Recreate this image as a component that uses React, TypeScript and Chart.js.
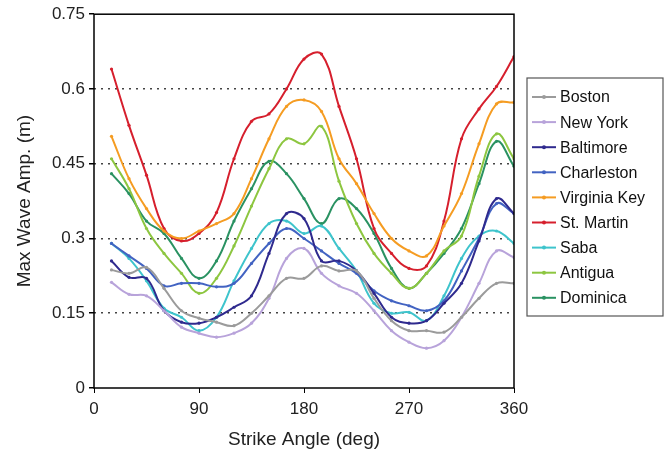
import React, { useEffect, useRef } from "react";
import { Chart, registerables } from "chart.js";

Chart.register(...registerables);

const angles = [15, 30, 45, 60, 75, 90, 105, 120, 135, 150, 165, 180, 195, 210, 225, 240, 255, 270, 285, 300, 315, 330, 345, 360];

const boston = [0.237, 0.23, 0.242, 0.2, 0.155, 0.14, 0.132, 0.125, 0.15, 0.185, 0.22, 0.22, 0.245, 0.235, 0.235, 0.18, 0.135, 0.115, 0.115, 0.112, 0.142, 0.18, 0.21, 0.21];
const newYork = [0.212, 0.188, 0.185, 0.155, 0.122, 0.11, 0.102, 0.11, 0.13, 0.18, 0.26, 0.28, 0.23, 0.205, 0.19, 0.155, 0.115, 0.092, 0.08, 0.095, 0.142, 0.21, 0.275, 0.262];
const baltimore = [0.255, 0.222, 0.22, 0.155, 0.132, 0.13, 0.142, 0.162, 0.185, 0.27, 0.35, 0.34, 0.255, 0.255, 0.235, 0.19, 0.142, 0.13, 0.135, 0.17, 0.21, 0.295, 0.38, 0.35];
const charleston = [0.29, 0.265, 0.24, 0.205, 0.21, 0.21, 0.203, 0.21, 0.25, 0.29, 0.32, 0.3, 0.275, 0.25, 0.23, 0.195, 0.175, 0.165, 0.155, 0.175, 0.235, 0.3, 0.37, 0.35];
const virginiaKey = [0.505, 0.42, 0.36, 0.315, 0.3, 0.315, 0.33, 0.35, 0.42, 0.5, 0.565, 0.578, 0.555, 0.46, 0.41, 0.35, 0.3, 0.275, 0.265, 0.325, 0.39, 0.49, 0.57, 0.573];
const stMartin = [0.64, 0.527, 0.427, 0.32, 0.295, 0.31, 0.352, 0.46, 0.535, 0.55, 0.6, 0.66, 0.67, 0.565, 0.46, 0.32, 0.27, 0.24, 0.245, 0.335, 0.5, 0.56, 0.605, 0.665];
const saba = [0.29, 0.26, 0.215, 0.16, 0.142, 0.115, 0.142, 0.215, 0.28, 0.33, 0.335, 0.31, 0.325, 0.28, 0.235, 0.17, 0.15, 0.152, 0.135, 0.185, 0.26, 0.305, 0.315, 0.29];
const antigua = [0.46, 0.4, 0.32, 0.27, 0.23, 0.19, 0.22, 0.285, 0.365, 0.44, 0.5, 0.49, 0.525, 0.415, 0.33, 0.27, 0.23, 0.2, 0.23, 0.275, 0.305, 0.425, 0.51, 0.46];
const dominica = [0.43, 0.39, 0.335, 0.31, 0.26, 0.22, 0.255, 0.335, 0.4, 0.455, 0.43, 0.38, 0.33, 0.38, 0.36, 0.31, 0.24, 0.2, 0.23, 0.27, 0.32, 0.41, 0.495, 0.445];

const seriesNames = ["Boston", "New York", "Baltimore", "Charleston", "Virginia Key", "St. Martin", "Saba", "Antigua", "Dominica"];
const seriesValues = [boston, newYork, baltimore, charleston, virginiaKey, stMartin, saba, antigua, dominica];
const seriesColors = ["#9b9b9b", "#b8a3da", "#2f2a8e", "#4263c2", "#f59c22", "#d61f2d", "#3ec4cc", "#8dc640", "#2a9262"];

const xTicks = [0, 90, 180, 270, 360];
const yTicks = [0, 0.15, 0.3, 0.45, 0.6, 0.75];
const yGridValues = [0.15, 0.3, 0.45, 0.6];

const FONT = "'Liberation Sans', Arial, Helvetica, sans-serif";

export default function App() {
  const ref = useRef<HTMLCanvasElement | null>(null);

  useEffect(() => {
    const canvas = ref.current;
    if (!canvas) return;

    const framePlugin = {
      id: "frameAndLegend",
      afterDraw(chart: any) {
        const { ctx, chartArea } = chart;
        ctx.save();
        ctx.strokeStyle = "#000";
        ctx.lineWidth = 1.5;
        ctx.strokeRect(chartArea.left, chartArea.top, chartArea.right - chartArea.left, chartArea.bottom - chartArea.top);
        ctx.fillStyle = "#222";
        ctx.font = `19px ${FONT}`;
        ctx.textAlign = "center";
        ctx.textBaseline = "middle";
        ctx.fillText("Strike Angle (deg)", (chartArea.left + chartArea.right) / 2, 440);
        ctx.save();
        ctx.translate(25, (chartArea.top + chartArea.bottom) / 2);
        ctx.rotate(-Math.PI / 2);
        ctx.fillText("Max Wave Amp. (m)", 0, 0);
        ctx.restore();
        const bx = 527, by = 78, bw = 136, bh = 238;
        ctx.strokeStyle = "#555";
        ctx.lineWidth = 1.2;
        ctx.strokeRect(bx, by, bw, bh);
        ctx.font = `16px ${FONT}`;
        ctx.textAlign = "left";
        chart.data.datasets.forEach((ds: any, i: number) => {
          const y = 97 + i * 25.1;
          ctx.strokeStyle = ds.borderColor;
          ctx.lineWidth = 2;
          ctx.beginPath();
          ctx.moveTo(532, y);
          ctx.lineTo(556, y);
          ctx.stroke();
          ctx.fillStyle = ds.borderColor;
          ctx.beginPath();
          ctx.arc(544, y, 2, 0, Math.PI * 2);
          ctx.fill();
          ctx.fillStyle = "#111";
          ctx.fillText(ds.label, 560, y + 1);
        });
        ctx.restore();
      },
    };

    const chart = new Chart(canvas, {
      type: "line",
      data: {
        datasets: seriesNames.map((name, i) => ({
          label: name,
          data: angles.map((a, j) => ({ x: a, y: seriesValues[i][j] })),
          borderColor: seriesColors[i],
          backgroundColor: seriesColors[i],
          borderWidth: 2,
          pointRadius: 1.6,
          pointBorderWidth: 0,
          tension: 0.4,
          fill: false,
        })),
      },
      options: {
        animation: false,
        responsive: false,
        maintainAspectRatio: false,
        layout: { padding: { left: 0, right: 158, top: 12, bottom: 0 } },
        plugins: { legend: { display: false }, tooltip: { enabled: false } },
        scales: {
          x: {
            type: "linear",
            min: 0,
            max: 360,
            afterBuildTicks: (s: any) => {
              s.ticks = xTicks.map((v) => ({ value: v }));
            },
            afterFit: (s: any) => {
              s.height = 66;
            },
            grid: { color: "rgba(0,0,0,0)", tickColor: "#000", tickLength: 5, drawTicks: true },
            border: { display: false },
            ticks: { font: { size: 17, family: FONT }, color: "#222", padding: 6, maxRotation: 0 },
          },
          y: {
            min: 0,
            max: 0.75,
            afterBuildTicks: (s: any) => {
              s.ticks = yTicks.map((v) => ({ value: v }));
            },
            afterFit: (s: any) => {
              s.width = 94;
            },
            grid: {
              color: (c: any) => (yGridValues.some((g) => Math.abs(g - c.tick.value) < 1e-6) ? "#444" : "rgba(0,0,0,0)"),
              lineWidth: 1.5,
              tickColor: "#000",
              tickLength: 5,
            },
            border: { display: false, dash: [2, 5] },
            ticks: {
              font: { size: 17, family: FONT },
              color: "#222",
              padding: 4,
              callback: (v: any) => String(+Number(v).toFixed(2)),
            },
          },
        },
      },
      plugins: [framePlugin],
    });

    return () => chart.destroy();
  }, []);

  return (
    <div style={{ position: "fixed", left: 0, top: 0, width: 672, height: 454, background: "#fff" }}>
      <canvas ref={ref} width={672} height={454} style={{ width: 672, height: 454, display: "block" }} />
    </div>
  );
}
